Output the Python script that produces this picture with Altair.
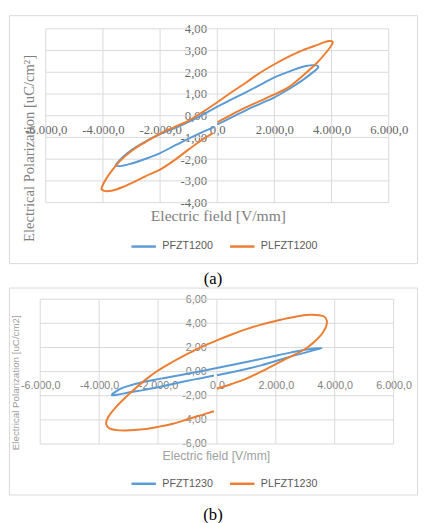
import altair as alt
import pandas as pd

# ---------------- data ----------------
A_NAMES = ["PFZT1200", "PLFZT1200"]
B_NAMES = ["PFZT1230", "PLFZT1230"]
COLORS = ["#5b9bd5", "#ed7d31"]

A_XTICKS = [-6000, -4000, -2000, 0, 2000, 4000, 6000]
A_YTICKS = [-4, -3, -2, -1, 0, 1, 2, 3, 4]
B_XTICKS = [-6000, -4000, -2000, 0, 2000, 4000, 6000]
B_YTICKS = [-6, -4, -2, 0, 2, 4, 6]

# panel (a) PFZT1200
a_pfzt_x = [0, 500, 1000, 1500, 2000, 2500, 3000, 3300, 3500, 3540, 3450, 3100, 2600, 2000, 1500, 1000, 500, 0,
            -500, -1000, -1500, -2000, -2500, -3000, -3300, -3500, -3550, -3400, -3000, -2500, -2000, -1500,
            -1000, -500, -120]
a_pfzt_y = [-0.40, -0.08, 0.25, 0.55, 0.85, 1.22, 1.65, 1.95, 2.17, 2.26, 2.32, 2.29, 2.08, 1.77, 1.42, 1.08, 0.75,
            0.42, 0.05, -0.28, -0.58, -0.85, -1.18, -1.58, -1.90, -2.18, -2.29, -2.32, -2.20, -1.98, -1.72, -1.38,
            -1.05, -0.74, -0.52]
# panel (a) PLFZT1200
a_plfzt_x = [0, 500, 1000, 1500, 2000, 2500, 3000, 3500, 3800, 4000, 4040, 3900, 3500, 3000, 2500, 2000, 1500,
             1000, 500, 0, -500, -1000, -1500, -2000, -2500, -3000, -3400, -3700, -3950, -4050, -3950, -3700,
             -3300, -3000, -2500, -2000, -1500, -1000, -500, -150]
a_plfzt_y = [-0.30, 0.05, 0.38, 0.68, 0.98, 1.32, 1.85, 2.45, 2.90, 3.25, 3.40, 3.44, 3.26, 3.02, 2.72, 2.37, 1.98,
             1.52, 1.08, 0.62, 0.18, -0.22, -0.52, -0.82, -1.20, -1.62, -2.08, -2.55, -3.05, -3.38, -3.46, -3.45,
             -3.28, -3.10, -2.78, -2.48, -2.05, -1.55, -1.08, -0.80]
# panel (b) PFZT1230
b_pfzt_x = [0, 500, 1000, 1500, 2000, 2500, 3000, 3300, 3560, 3300, 3000, 2500, 2000, 1500, 1000, 500, 0, -500,
            -1000, -1500, -2000, -2500, -3000, -3300, -3570, -3400, -3000, -2500, -2000, -1500, -1000, -500, -100]
b_pfzt_y = [-0.30, -0.05, 0.22, 0.52, 0.88, 1.25, 1.58, 1.78, 1.95, 1.92, 1.82, 1.58, 1.32, 1.06, 0.80, 0.55, 0.30,
            0.06, -0.17, -0.40, -0.62, -0.86, -1.18, -1.45, -1.95, -1.92, -1.73, -1.53, -1.30, -1.02, -0.75, -0.52,
            -0.32]
# panel (b) PLFZT1230
b_plfzt_x = [0, 500, 1000, 1500, 2000, 2500, 3000, 3300, 3600, 3720, 3730, 3650, 3450, 3200, 2800, 2200, 1500,
             1000, 500, 0, -500, -1000, -1500, -2000, -2400, -3000, -3450, -3700, -3760, -3650, -3400, -3100,
             -2500, -2000, -1500, -1000, -500, -100]
b_plfzt_y = [-1.40, -1.02, -0.58, 0.00, 0.62, 1.25, 1.88, 2.45, 3.25, 3.85, 4.25, 4.55, 4.68, 4.71, 4.62, 4.32,
             3.90, 3.52, 3.08, 2.60, 2.08, 1.48, 0.82, 0.10, -0.62, -1.90, -3.00, -3.80, -4.35, -4.70, -4.85, -4.88,
             -4.78, -4.58, -4.32, -3.95, -3.58, -3.28]

GRID = "#d9d9d9"
MINUS = "\u2212"
X_LABEL = ("replace(replace(replace(replace(format(datum.value, ',.1f'), ',', '#'), '.', ','), '#', '.'), '"
           + MINUS + "', '-')")
Y_LABEL = "replace(replace(format(datum.value, '.2f'), '.', ','), '" + MINUS + "', '-')"


def panel(names, series, xticks, yticks, W, H, xr, yr, st, caption):
    rows = []
    for name, (xs, ys) in zip(names, series):
        for i, (x, y) in enumerate(zip(xs, ys)):
            rows.append({"series": name, "E": x, "P": y, "idx": i})
    df = pd.DataFrame(rows)
    xg = pd.DataFrame({"E": xticks, "P": [min(yticks)] * len(xticks), "P2": [max(yticks)] * len(xticks)})
    yg = pd.DataFrame({"P": yticks, "E": [min(xticks)] * len(yticks), "E2": [max(xticks)] * len(yticks)})

    x0 = (xr[0] + xr[1]) / 2.0
    y0 = (yr[0] + yr[1]) / 2.0
    xscale = alt.Scale(domain=[min(xticks), max(xticks)], range=list(xr), nice=False, zero=False)
    yscale = alt.Scale(domain=[min(yticks), max(yticks)], range=list(yr), nice=False, zero=False)
    xaxis = alt.Axis(values=xticks, grid=False, ticks=False, domain=False, labelExpr=X_LABEL,
                     labelFont=st["lfont"], labelFontSize=st["lsize"], labelColor=st["lcolor"],
                     labelPadding=st["xpad"], labelFlush=False, labelOverlap=False,
                     offset=y0 - H, title="Electric field [V/mm]", titleFont=st["tfont"],
                     titleFontSize=st["xtsize"], titleColor=st["tcolor"], titleFontWeight="normal",
                     titleX=st["xt"][0], titleY=st["xt"][1] - y0, titleBaseline="middle", titleAlign="center")
    yaxis = alt.Axis(values=yticks, grid=False, ticks=False, domain=False, labelExpr=Y_LABEL,
                     labelFont=st["lfont"], labelFontSize=st["lsize"], labelColor=st["lcolor"],
                     labelPadding=st["ypad"], labelOverlap=False, labelFlush=False,
                     offset=-x0, title=st["ytitle"], titleFont=st["tfont"], titleFontSize=st["ytsize"],
                     titleColor=st["tcolor"], titleFontWeight="normal", titleAngle=270,
                     titleX=st["yt"][0] - x0, titleY=st["yt"][1], titleBaseline="middle", titleAlign="center")
    xenc = alt.X("E:Q", scale=xscale, axis=xaxis)
    yenc = alt.Y("P:Q", scale=yscale, axis=yaxis)

    gv = alt.Chart(xg).mark_rule(color=GRID, strokeWidth=1).encode(x=xenc, y=yenc, y2="P2:Q")
    gh = alt.Chart(yg).mark_rule(color=GRID, strokeWidth=1).encode(x=xenc, x2="E2:Q", y=yenc)
    lines = alt.Chart(df).mark_line(strokeWidth=st["lw"], interpolate="catmull-rom").encode(
        x=xenc, y=yenc,
        color=alt.Color("series:N", scale=alt.Scale(domain=names, range=COLORS),
                        legend=alt.Legend(orient="none", legendX=st["leg"][0], legendY=st["leg"][1],
                                          direction="horizontal", title=None, symbolType="stroke",
                                          symbolSize=625, symbolStrokeWidth=2.5, labelFont="Liberation Sans",
                                          labelFontSize=11, labelColor="#595959", columnPadding=12,
                                          labelOffset=5, padding=0)),
        detail="series:N",
        order="idx:Q",
    )
    return alt.layer(gv, gh, lines).properties(
        width=W, height=H,
        title=alt.TitleParams(caption, orient="bottom", anchor="middle", font="Liberation Serif",
                              fontSize=17, fontWeight="normal", color="#000000", offset=st["capoff"]),
    )


st_a = dict(lfont="Liberation Serif", lsize=13, lcolor="#666666", xpad=8, ypad=11,
            tfont="Liberation Serif", xtsize=16, ytsize=15, tcolor="#808080",
            xt=(214, 205), yt=(20, 136), ytitle="Electrical Polarization [uC/cm\u00b2]",
            leg=(124, 223), lw=2, capoff=8)
st_b = dict(lfont="Liberation Sans", lsize=11, lcolor="#7f7f7f", xpad=8, ypad=11,
            tfont="Liberation Sans", xtsize=12.5, ytsize=10, tcolor="#a0a0a0",
            xt=(212, 172), yt=(7, 97), ytitle="Electrical Polarization [uC/cm2]",
            leg=(124, 187), lw=2, capoff=13)

pa = panel(A_NAMES, [(a_pfzt_x, a_pfzt_y), (a_plfzt_x, a_plfzt_y)], A_XTICKS, A_YTICKS,
           418, 254, (37.7, 389), (192, 14), st_a, "(a)")
pb = panel(B_NAMES, [(b_pfzt_x, b_pfzt_y), (b_plfzt_x, b_plfzt_y)], B_XTICKS, B_YTICKS,
           418, 212, (32, 394), (160.3, 12), st_b, "(b)")

chart = alt.vconcat(pa, pb, spacing=25, bounds="flush").resolve_scale(
    x="independent", y="independent", color="independent"
).resolve_legend(color="independent").properties(padding=0, background="white").configure_view(
    stroke=GRID, strokeWidth=1
)

chart.save("out.html", embed_options={"renderer": "svg", "actions": False})
